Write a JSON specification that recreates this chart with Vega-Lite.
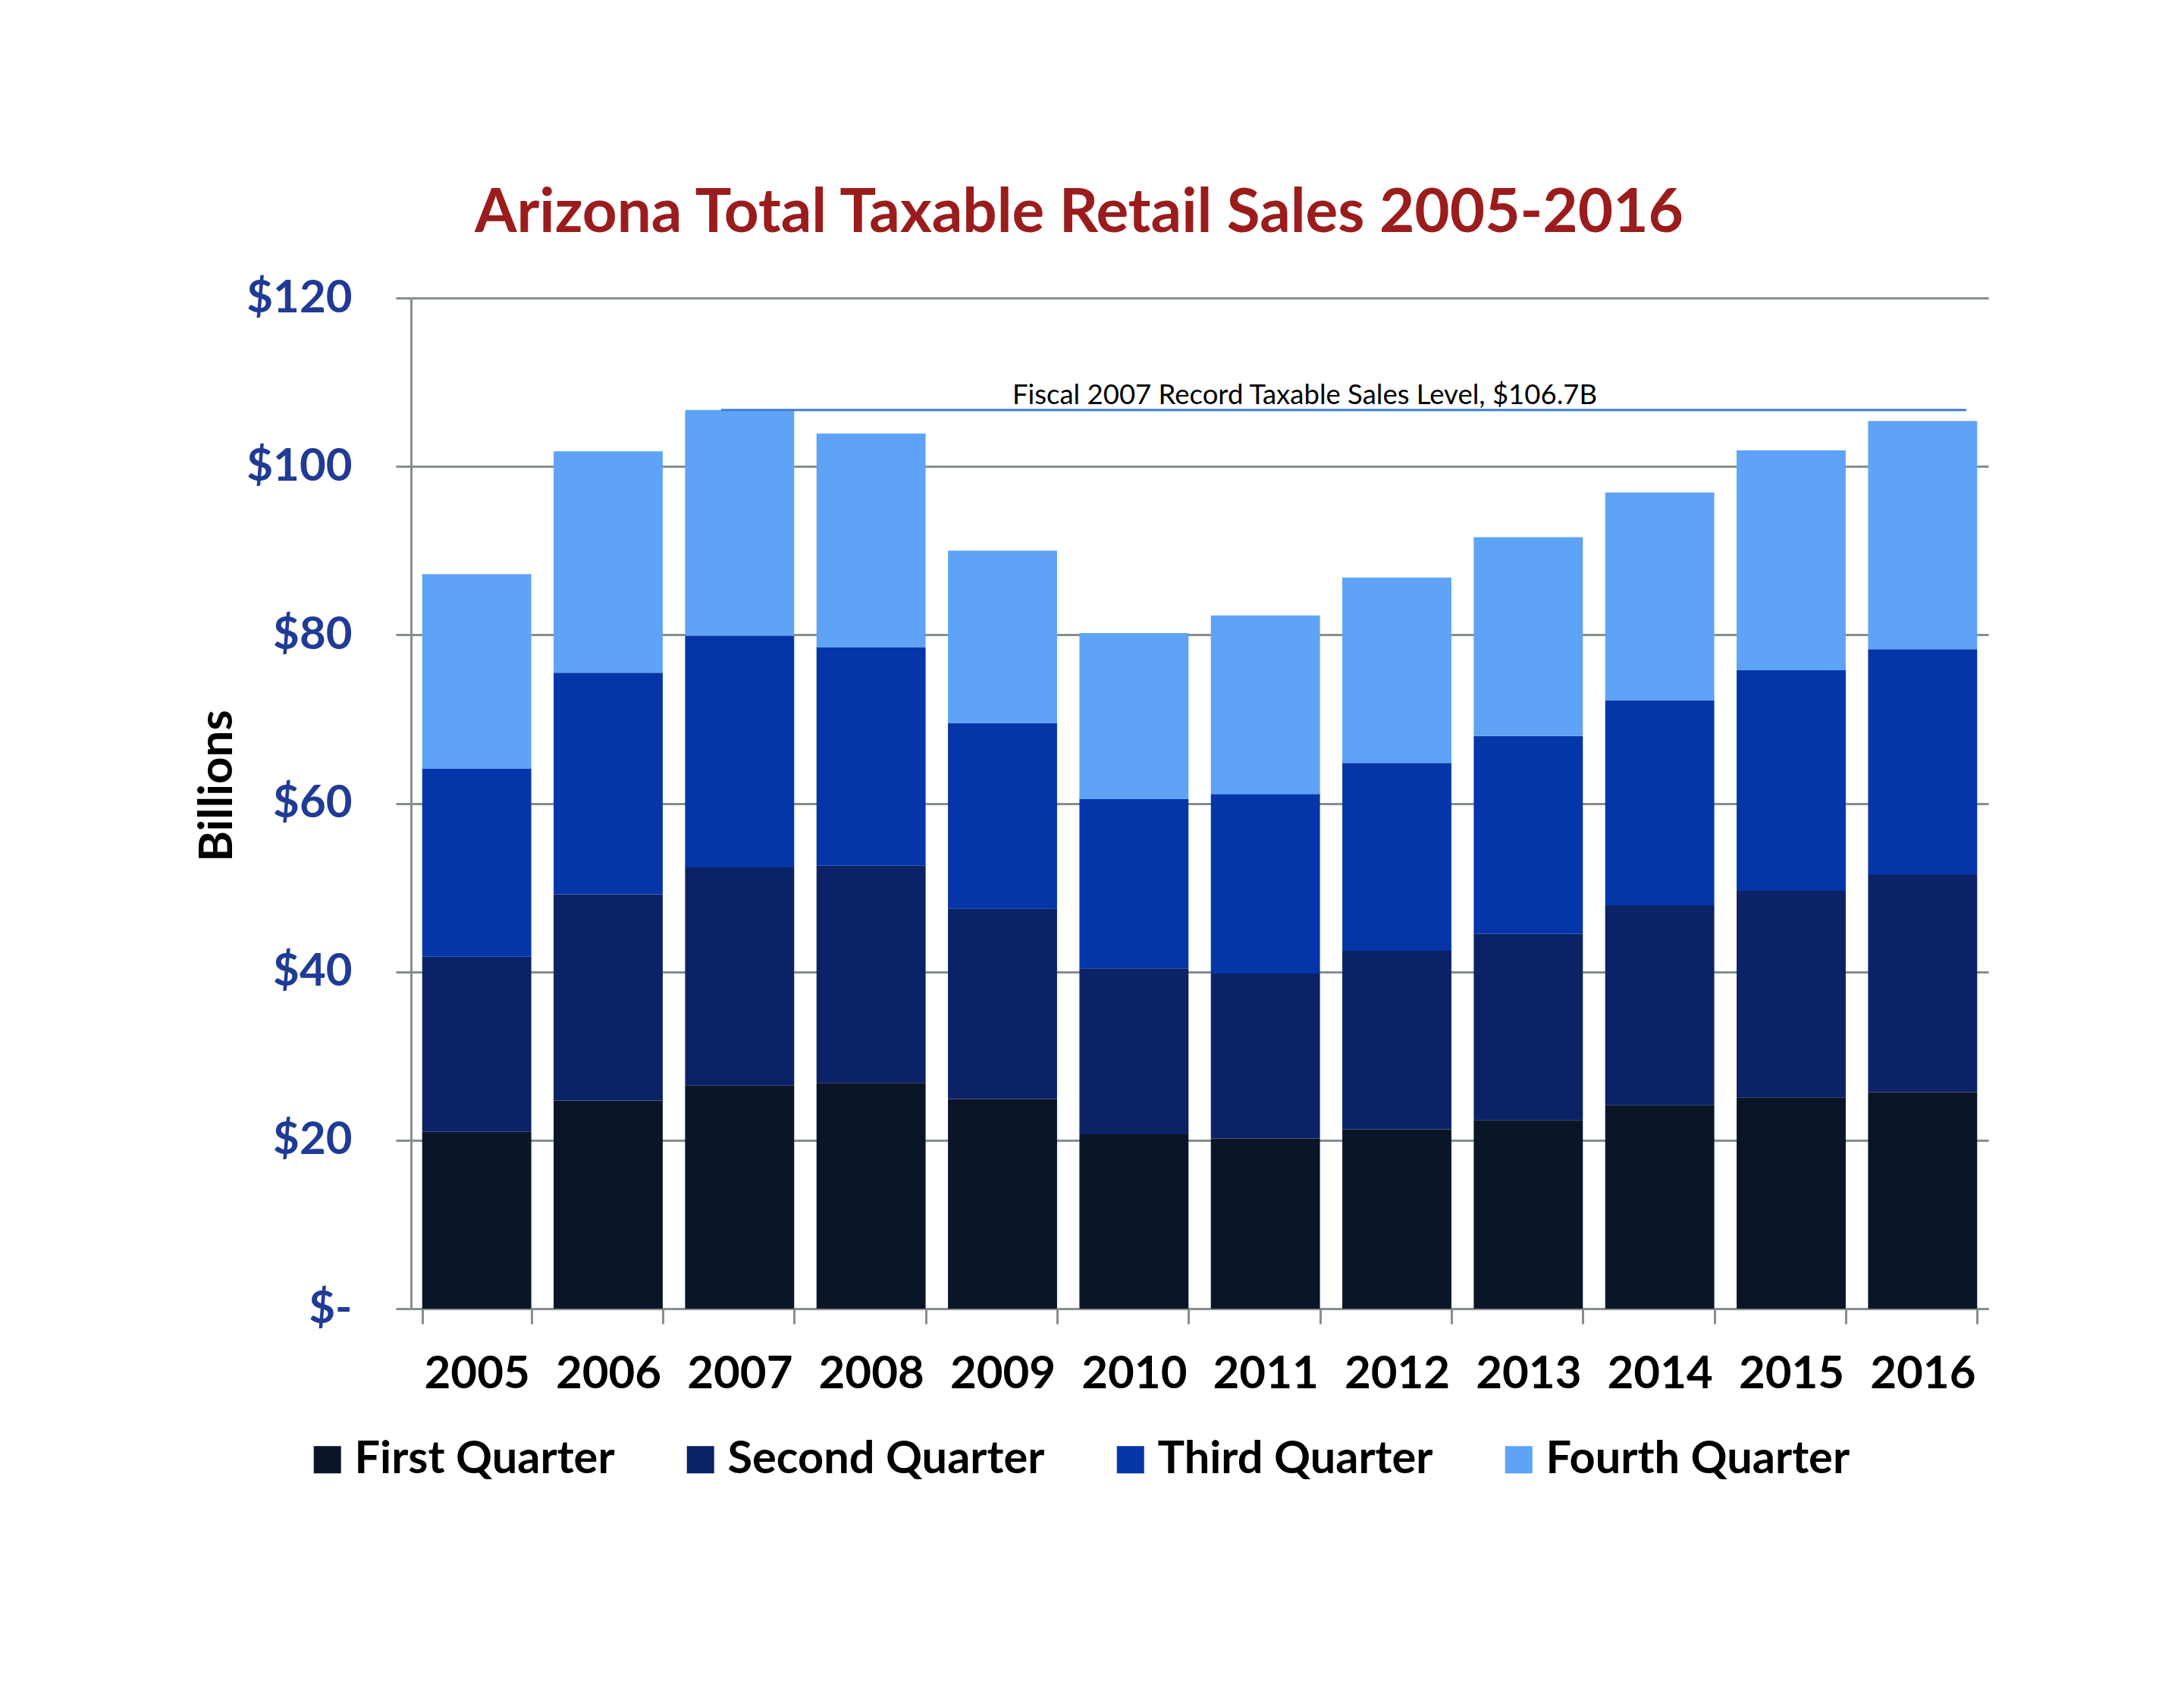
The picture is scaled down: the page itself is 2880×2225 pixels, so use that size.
{
  "$schema": "https://vega.github.io/schema/vega-lite/v6.json",
  "width": 2080,
  "height": 1333,
  "autosize": {"type": "none"},
  "padding": {"left": 542, "top": 393, "right": 258, "bottom": 499},
  "background": "white",
  "title": {
    "text": "Arizona Total Taxable Retail Sales 2005-2016",
    "color": "#9B1C1C",
    "font": "Lato",
    "fontSize": 80,
    "fontWeight": "bold",
    "anchor": "middle",
    "dx": -159,
    "offset": 40
  },
  "config": {"view": {"stroke": null}, "font": "Lato"},
  "layer": [
    {
      "data": {
        "values": [
          {"year": "2005", "quarter": "First Quarter", "qn": 1, "sales": 21.0},
          {"year": "2005", "quarter": "Second Quarter", "qn": 2, "sales": 20.8},
          {"year": "2005", "quarter": "Third Quarter", "qn": 3, "sales": 22.3},
          {"year": "2005", "quarter": "Fourth Quarter", "qn": 4, "sales": 23.1},
          {"year": "2006", "quarter": "First Quarter", "qn": 1, "sales": 24.7},
          {"year": "2006", "quarter": "Second Quarter", "qn": 2, "sales": 24.5},
          {"year": "2006", "quarter": "Third Quarter", "qn": 3, "sales": 26.3},
          {"year": "2006", "quarter": "Fourth Quarter", "qn": 4, "sales": 26.3},
          {"year": "2007", "quarter": "First Quarter", "qn": 1, "sales": 26.5},
          {"year": "2007", "quarter": "Second Quarter", "qn": 2, "sales": 25.9},
          {"year": "2007", "quarter": "Third Quarter", "qn": 3, "sales": 27.5},
          {"year": "2007", "quarter": "Fourth Quarter", "qn": 4, "sales": 26.8},
          {"year": "2008", "quarter": "First Quarter", "qn": 1, "sales": 26.8},
          {"year": "2008", "quarter": "Second Quarter", "qn": 2, "sales": 25.8},
          {"year": "2008", "quarter": "Third Quarter", "qn": 3, "sales": 25.9},
          {"year": "2008", "quarter": "Fourth Quarter", "qn": 4, "sales": 25.4},
          {"year": "2009", "quarter": "First Quarter", "qn": 1, "sales": 24.9},
          {"year": "2009", "quarter": "Second Quarter", "qn": 2, "sales": 22.6},
          {"year": "2009", "quarter": "Third Quarter", "qn": 3, "sales": 22.0},
          {"year": "2009", "quarter": "Fourth Quarter", "qn": 4, "sales": 20.5},
          {"year": "2010", "quarter": "First Quarter", "qn": 1, "sales": 20.7},
          {"year": "2010", "quarter": "Second Quarter", "qn": 2, "sales": 19.7},
          {"year": "2010", "quarter": "Third Quarter", "qn": 3, "sales": 20.1},
          {"year": "2010", "quarter": "Fourth Quarter", "qn": 4, "sales": 19.7},
          {"year": "2011", "quarter": "First Quarter", "qn": 1, "sales": 20.2},
          {"year": "2011", "quarter": "Second Quarter", "qn": 2, "sales": 19.6},
          {"year": "2011", "quarter": "Third Quarter", "qn": 3, "sales": 21.3},
          {"year": "2011", "quarter": "Fourth Quarter", "qn": 4, "sales": 21.2},
          {"year": "2012", "quarter": "First Quarter", "qn": 1, "sales": 21.3},
          {"year": "2012", "quarter": "Second Quarter", "qn": 2, "sales": 21.2},
          {"year": "2012", "quarter": "Third Quarter", "qn": 3, "sales": 22.3},
          {"year": "2012", "quarter": "Fourth Quarter", "qn": 4, "sales": 22.0},
          {"year": "2013", "quarter": "First Quarter", "qn": 1, "sales": 22.4},
          {"year": "2013", "quarter": "Second Quarter", "qn": 2, "sales": 22.1},
          {"year": "2013", "quarter": "Third Quarter", "qn": 3, "sales": 23.5},
          {"year": "2013", "quarter": "Fourth Quarter", "qn": 4, "sales": 23.6},
          {"year": "2014", "quarter": "First Quarter", "qn": 1, "sales": 24.2},
          {"year": "2014", "quarter": "Second Quarter", "qn": 2, "sales": 23.7},
          {"year": "2014", "quarter": "Third Quarter", "qn": 3, "sales": 24.3},
          {"year": "2014", "quarter": "Fourth Quarter", "qn": 4, "sales": 24.7},
          {"year": "2015", "quarter": "First Quarter", "qn": 1, "sales": 25.1},
          {"year": "2015", "quarter": "Second Quarter", "qn": 2, "sales": 24.5},
          {"year": "2015", "quarter": "Third Quarter", "qn": 3, "sales": 26.2},
          {"year": "2015", "quarter": "Fourth Quarter", "qn": 4, "sales": 26.1},
          {"year": "2016", "quarter": "First Quarter", "qn": 1, "sales": 25.7},
          {"year": "2016", "quarter": "Second Quarter", "qn": 2, "sales": 25.8},
          {"year": "2016", "quarter": "Third Quarter", "qn": 3, "sales": 26.8},
          {"year": "2016", "quarter": "Fourth Quarter", "qn": 4, "sales": 27.1}
        ]
      },
      "mark": {"type": "bar"},
      "encoding": {
        "x": {
          "field": "year",
          "type": "nominal",
          "scale": {"paddingInner": 0.17, "paddingOuter": 0.085},
          "axis": {
            "title": null,
            "labelAngle": 0,
            "labelFont": "Lato",
            "labelFontSize": 60,
            "labelFontWeight": "bold",
            "labelColor": "black",
            "labelPadding": 37,
            "tickBand": "extent",
            "tickSize": 20,
            "tickColor": "#868E8E",
            "tickWidth": 3,
            "domainColor": "#868E8E",
            "domainWidth": 3,
            "grid": false
          }
        },
        "y": {
          "field": "sales",
          "type": "quantitative",
          "stack": "zero",
          "scale": {"domain": [0, 120]},
          "axis": {
            "values": [0, 20, 40, 60, 80, 100, 120],
            "title": "Billions",
            "titleFont": "Lato",
            "titleFontSize": 62,
            "titleFontWeight": "bold",
            "titleColor": "black",
            "titlePadding": 24,
            "titleY": 643,
            "labelExpr": "datum.value == 0 ? '$-\u00a0\u00a0' : '$' + datum.label",
            "labelFont": "Lato",
            "labelFontSize": 60,
            "labelFontWeight": "bold",
            "labelColor": "#1F3B96",
            "labelPadding": 58,
            "tickSize": 20,
            "tickColor": "#868E8E",
            "tickWidth": 3,
            "domainColor": "#868E8E",
            "domainWidth": 3,
            "gridColor": "#868E8E",
            "gridWidth": 3
          }
        },
        "order": {"field": "qn", "type": "quantitative", "sort": "ascending"},
        "color": {
          "field": "quarter",
          "type": "nominal",
          "sort": ["First Quarter", "Second Quarter", "Third Quarter", "Fourth Quarter"],
          "scale": {
            "domain": ["First Quarter", "Second Quarter", "Third Quarter", "Fourth Quarter"],
            "range": ["#0A1628", "#0C2266", "#0536A9", "#5EA3F6"]
          },
          "legend": {
            "title": null,
            "orient": "none",
            "legendX": -140,
            "legendY": 1502,
            "direction": "horizontal",
            "symbolType": "square",
            "symbolSize": 1296,
            "symbolStrokeWidth": 0,
            "labelFont": "Lato",
            "labelFontSize": 59.5,
            "labelFontWeight": "bold",
            "labelColor": "black",
            "labelLimit": 1000,
            "labelOffset": 6,
            "columnPadding": 83,
            "padding": 0
          }
        }
      }
    },
    {
      "data": {"values": [{"note": "Fiscal 2007 Record Taxable Sales Level, $106.7B", "level": 106.7, "from": "2007", "to": "2016"}]},
      "mark": {"type": "rule", "color": "#3D7FD9", "strokeWidth": 3},
      "encoding": {
        "x": {"field": "from", "type": "nominal", "bandPosition": 0.33},
        "x2": {"field": "to", "bandPosition": 0.9},
        "y": {"field": "level", "type": "quantitative"}
      }
    },
    {
      "data": {"values": [{"note": "Fiscal 2007 Record Taxable Sales Level, $106.7B", "level": 106.7, "from": "2007", "to": "2016"}]},
      "mark": {"type": "text", "font": "Lato", "fontSize": 36.5, "color": "black", "align": "center", "baseline": "alphabetic", "dy": -8},
      "encoding": {
        "x": {"datum": "2011", "bandPosition": 0.86},
        "y": {"field": "level", "type": "quantitative"},
        "text": {"field": "note"}
      }
    }
  ]
}
